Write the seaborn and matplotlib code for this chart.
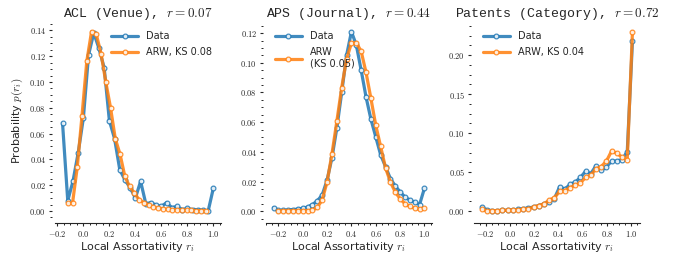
import numpy as np
import pandas as pd
import matplotlib
matplotlib.use("Agg")
import matplotlib.pyplot as plt
import seaborn as sns
from matplotlib.ticker import AutoMinorLocator, FuncFormatter, MultipleLocator

# ---------------- data ----------------
# ACL (Venue)
acl_data_x = np.linspace(-0.16, 1.0, 30)
acl_data_y = [0.068, 0.008, 0.023, 0.045, 0.072, 0.121, 0.138, 0.126, 0.111, 0.070,
              0.056, 0.032, 0.024, 0.018, 0.010, 0.023, 0.0057, 0.0065, 0.0044, 0.0036,
              0.0065, 0.0026, 0.0036, 0.0011, 0.0020, 0.0011, 0.0011, 0.0005, 0.0003, 0.018]
acl_arw_x = np.linspace(-0.12, 0.94, 30)
acl_arw_y = [0.006, 0.006, 0.034, 0.074, 0.116, 0.139, 0.137, 0.122, 0.100, 0.080,
             0.056, 0.044, 0.027, 0.019, 0.014, 0.0088, 0.0065, 0.0045, 0.0030, 0.0022,
             0.0018, 0.0012, 0.0010, 0.0008, 0.0006, 0.0005, 0.0004, 0.0003, 0.0003, 0.0002]

# APS (Journal)
aps_data_x = np.linspace(-0.24, 1.0, 32)
aps_data_y = [0.0023, 0.0005, 0.0006, 0.0008, 0.0011, 0.0014, 0.0020, 0.0028, 0.0045, 0.0070,
              0.0110, 0.021, 0.036, 0.056, 0.080, 0.105, 0.121, 0.112, 0.095, 0.077,
              0.062, 0.050, 0.038, 0.030, 0.022, 0.017, 0.013, 0.0095, 0.0075, 0.0060,
              0.0045, 0.0155]
aps_arw_x = np.linspace(-0.2, 1.0, 31)
aps_arw_y = [0.0003, 0.0003, 0.0003, 0.0003, 0.0003, 0.0003, 0.0003, 0.0006, 0.0025, 0.0077,
             0.0197, 0.0386, 0.0606, 0.0833, 0.1026, 0.1133, 0.1135, 0.1078, 0.0935, 0.076,
             0.0579, 0.0436, 0.0293, 0.0197, 0.0129, 0.0084, 0.0050, 0.0032, 0.0020, 0.0012,
             0.0020]

# Patents (Category)
pat_data_x = np.linspace(-0.235, 1.012, 30)
pat_data_y = [0.005, 0.0015, 0.0005, 0.0005, 0.0008, 0.001, 0.0015, 0.002, 0.003, 0.004,
              0.005, 0.007, 0.009, 0.012, 0.016, 0.031, 0.028, 0.034, 0.037, 0.043,
              0.051, 0.048, 0.058, 0.052, 0.0565, 0.064, 0.064, 0.066, 0.076, 0.218]
pat_arw_x = np.linspace(-0.235, 1.012, 30)
pat_arw_y = [0.002, 0.0003, 0.0003, 0.0005, 0.0008, 0.001, 0.0012, 0.0015, 0.002, 0.003,
             0.005, 0.007, 0.009, 0.014, 0.017, 0.025, 0.026, 0.030, 0.033, 0.036,
             0.043, 0.046, 0.054, 0.057, 0.064, 0.077, 0.074, 0.069, 0.066, 0.230]

titles = ["ACL (Venue), $r = 0.07$", "APS (Journal), $r = 0.44$", "Patents (Category), $r = 0.72$"]
arw_labels = ["ARW, KS 0.08", "ARW\n(KS 0.05)", "ARW, KS 0.04"]
legend_locs = ["upper right", "upper left", "upper left"]

panels = [
    (acl_data_x, acl_data_y, acl_arw_x, acl_arw_y),
    (aps_data_x, aps_data_y, aps_arw_x, aps_arw_y),
    (pat_data_x, pat_data_y, pat_arw_x, pat_arw_y),
]

# ---------------- style ----------------
sns.set_style("ticks")
plt.rcParams["font.family"] = ["DejaVu Sans"]
plt.rcParams["mathtext.fontset"] = "cm"

blue = "#1f77b4"
orange = "#ff7f0e"

W, H = 680, 257
fig = plt.figure(figsize=(W / 100, H / 100), dpi=100)

lefts_px = [55, 266, 474]
width_px = 166
top_px, bottom_px = 22.7, 219.7

for i, (dx, dy, ax_x, ax_y) in enumerate(panels):
    ax = fig.add_axes([lefts_px[i] / W, 1 - bottom_px / H, width_px / W, (bottom_px - top_px) / H])
    df_d = pd.DataFrame({"x": dx, "y": dy})
    df_a = pd.DataFrame({"x": ax_x, "y": ax_y})
    sns.lineplot(data=df_d, x="x", y="y", ax=ax, color=blue, lw=2.3, marker="o",
                 markersize=3.4, markerfacecolor="white", markeredgecolor=blue,
                 markeredgewidth=0.9, label="Data", alpha=0.85)
    sns.lineplot(data=df_a, x="x", y="y", ax=ax, color=orange, lw=2.3, marker="o",
                 markersize=3.4, markerfacecolor="white", markeredgecolor=orange,
                 markeredgewidth=0.9, label=arw_labels[i], alpha=0.85)
    ax.set_title(titles[i], family="Liberation Mono", fontsize=9.5, pad=4)
    ax.set_xlabel("Local Assortativity $r_i$", fontsize=8, labelpad=1)
    if i == 0:
        ax.set_ylabel("Probability $p(r_i)$", fontsize=8, labelpad=3)
    else:
        ax.set_ylabel("")
    ax.xaxis.set_major_locator(MultipleLocator(0.2))
    ax.xaxis.set_minor_locator(AutoMinorLocator(4))
    ax.yaxis.set_minor_locator(AutoMinorLocator(4))
    ax.xaxis.set_major_formatter(FuncFormatter(lambda v, p: f"${v:.1f}$"))
    ax.yaxis.set_major_formatter(FuncFormatter(lambda v, p: f"${v:.2f}$"))
    ax.tick_params(axis="both", which="major", labelsize=6, length=2.5, width=0.8, pad=1.5)
    ax.tick_params(axis="both", which="minor", length=1.6, width=0.7)
    for s in ["top", "right"]:
        ax.spines[s].set_visible(False)
    ax.spines["bottom"].set_position(("outward", 2.5))
    ax.spines["left"].set_position(("outward", 2.5))
    ax.spines["left"].set_visible(False)
    ax.spines["bottom"].set_linewidth(0.8)
    leg = ax.legend(loc=legend_locs[i], frameon=False, fontsize=7, handlelength=2.8,
                    borderaxespad=0.5, labelspacing=0.6)

fig.savefig("out.png", dpi=100)
